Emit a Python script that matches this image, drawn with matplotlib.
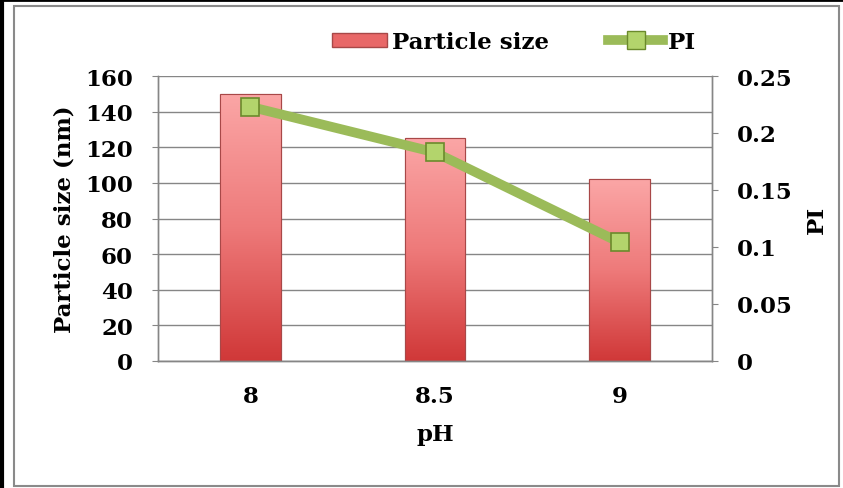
import numpy as np
import matplotlib
matplotlib.use('Agg')
import matplotlib.pyplot as plt
from matplotlib.patches import Rectangle
from matplotlib.lines import Line2D
from matplotlib.colors import LinearSegmentedColormap

ph_labels = ['8', '8.5', '9']
particle_size = [150, 125, 102]
pi_values = [0.223, 0.183, 0.104]

plt.rcParams['font.family'] = ['DejaVu Serif']
plt.rcParams['font.weight'] = 'bold'
FS = 16.5

fig = plt.figure(figsize=(8.43, 4.89), dpi=100)
ax = fig.add_axes([158 / 843, 1 - 362 / 489, (712 - 158) / 843, (362 - 77) / 489])
ax2 = ax.twinx()

x = np.arange(len(ph_labels))
bars = ax.bar(x, particle_size, width=0.327, color='#e86868', edgecolor='#a84848',
              linewidth=0.8, zorder=2)

# gradient fill for bars
cmap = LinearSegmentedColormap.from_list('barg', ['#d03838', '#ee7a7a', '#fba6a6'])
grad = np.linspace(0, 1, 256).reshape(-1, 1)
for b in bars:
    bx, by = b.get_x(), b.get_y()
    bw, bh = b.get_width(), b.get_height()
    im = ax.imshow(grad, cmap=cmap, aspect='auto', origin='lower',
                   extent=[bx, bx + bw, by, by + bh], zorder=2.5)
    im.set_clip_path(b)
    ax.add_patch(Rectangle((bx, by), bw, bh, fill=False, edgecolor='#a84848',
                           linewidth=0.8, zorder=2.6))

ax.set_xlim(-0.5, 2.5)
ax.set_ylim(0, 160)
ax.set_yticks(np.arange(0, 161, 20))
ax.yaxis.grid(True, color='#868686', linewidth=1.0, zorder=0)
ax.set_axisbelow(True)
ax.set_xticks(x)
ax.set_xticklabels(ph_labels)

ax2.plot(x, pi_values, color='#9bbb59', linewidth=7, solid_capstyle='butt', zorder=3,
         marker='s', markersize=12.5, markerfacecolor='#b3d46c', markeredgecolor='#6b8a2c',
         markeredgewidth=1.2)
ax2.set_ylim(0, 0.25)
ax2.set_yticks([0, 0.05, 0.1, 0.15, 0.2, 0.25])
ax2.set_yticklabels(['0', '0.05', '0.1', '0.15', '0.2', '0.25'])
ax2.set_zorder(ax.get_zorder() + 1)
ax2.patch.set_visible(False)

for a in (ax, ax2):
    for s in a.spines.values():
        s.set_color('#868686')
        s.set_linewidth(1.0)
    a.spines['top'].set_visible(False)
    a.tick_params(labelsize=FS, colors='#868686', labelcolor='black', length=4)
    for lab in a.get_yticklabels() + a.get_xticklabels():
        lab.set_fontweight('bold')
ax.tick_params(axis='x', length=0, pad=17)
ax.tick_params(axis='y', pad=14)
ax2.tick_params(axis='y', pad=14)

ax.set_ylabel('Particle size (nm)', fontsize=FS, fontweight='bold', labelpad=7)
ax2.set_ylabel('PI', fontsize=FS, fontweight='bold', labelpad=9)
ax.set_xlabel('pH', fontsize=FS, fontweight='bold', labelpad=12)

handles = [Rectangle((0, 0), 1, 1, facecolor='#e86868', edgecolor='#a84848'),
           Line2D([], [], color='#9bbb59', linewidth=7, marker='s', markersize=12.5,
                  markerfacecolor='#b3d46c', markeredgecolor='#6b8a2c')]
fig.legend(handles, ['Particle size', 'PI'], loc='center', bbox_to_anchor=(514 / 843, 1 - 43 / 489),
           ncol=2, frameon=False, prop={'weight': 'bold', 'size': FS},
           handlelength=2.4, handleheight=0.6, columnspacing=2.6, handletextpad=0.2)

# chart border and document edge
fig.patches.append(Rectangle((14 / 843, 2 / 489), (839 - 14) / 843, (482 - 2) / 489,
                             transform=fig.transFigure, fill=False, edgecolor='#8a8a8a',
                             linewidth=1.5))
fig.lines.append(Line2D([0.002, 0.002], [0, 1], transform=fig.transFigure, color='black', linewidth=3))
fig.lines.append(Line2D([0, 1], [0.997, 0.997], transform=fig.transFigure, color='black', linewidth=2))

fig.savefig('out.png', dpi=100)
